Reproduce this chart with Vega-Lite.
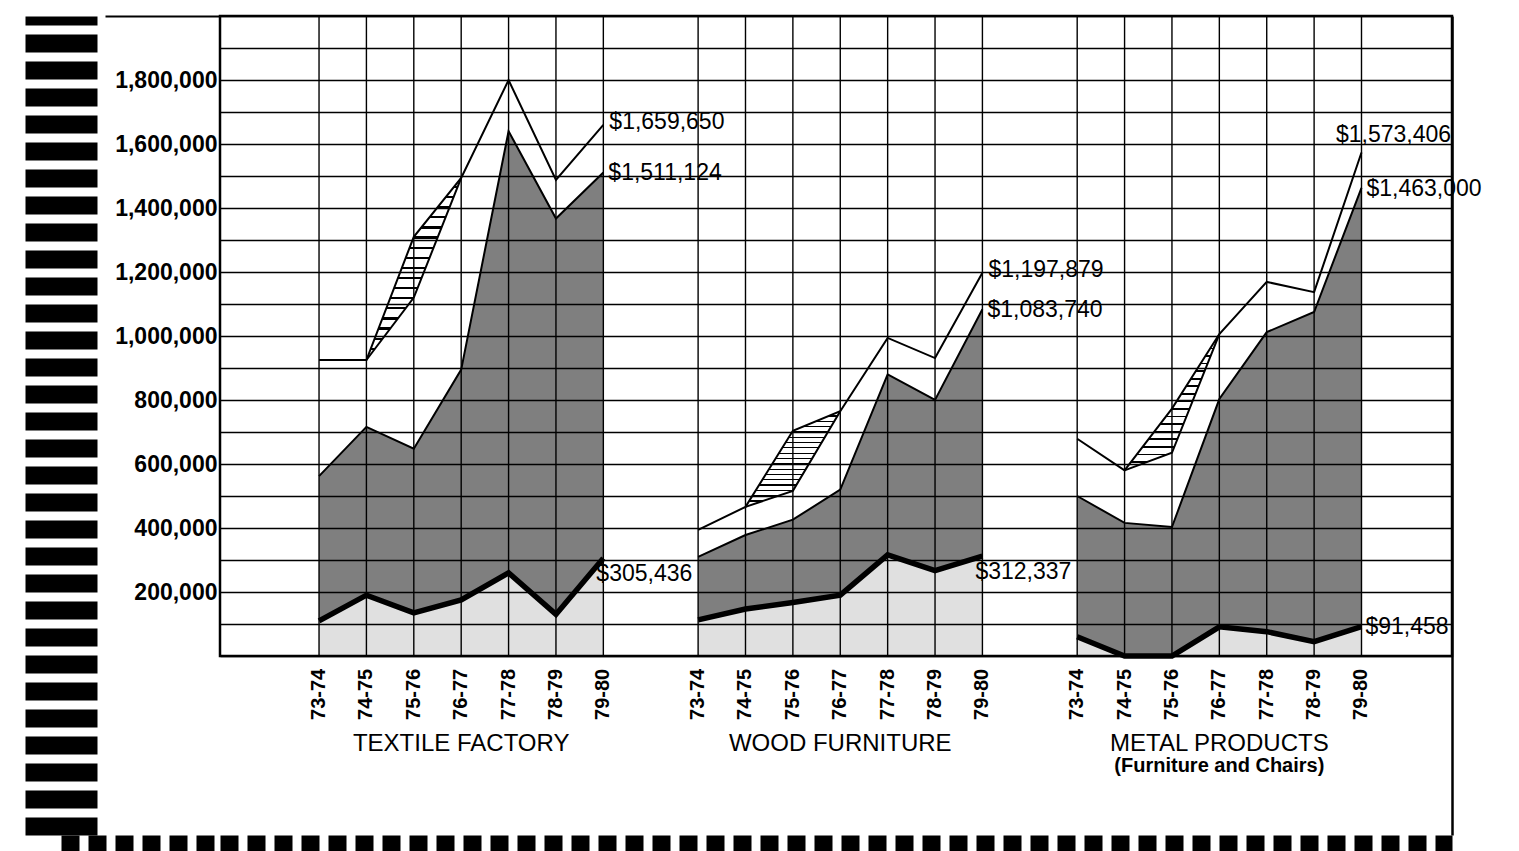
{
  "$schema": "https://vega.github.io/schema/vega-lite/v6.json",
  "width": 1232,
  "height": 819,
  "autosize": {"type": "none"},
  "padding": {"left": 220, "top": 16, "right": 67, "bottom": 16},
  "background": "white",
  "config": {"view": {"stroke": null}, "font": "Liberation Sans"},
  "datasets": {
    "main": [
      {"industry": "TEXTILE FACTORY", "year": "73-74", "upper": 925000, "alt": null, "middle": 562000, "lower": 110000},
      {"industry": "TEXTILE FACTORY", "year": "74-75", "upper": 925000, "alt": 925000, "middle": 716000, "lower": 190000},
      {"industry": "TEXTILE FACTORY", "year": "75-76", "upper": 1310000, "alt": 1120000, "middle": 648000, "lower": 135000},
      {"industry": "TEXTILE FACTORY", "year": "76-77", "upper": 1494000, "alt": 1494000, "middle": 895000, "lower": 175000},
      {"industry": "TEXTILE FACTORY", "year": "77-78", "upper": 1800000, "alt": null, "middle": 1640000, "lower": 260000},
      {"industry": "TEXTILE FACTORY", "year": "78-79", "upper": 1488000, "alt": null, "middle": 1367000, "lower": 130000},
      {"industry": "TEXTILE FACTORY", "year": "79-80", "upper": 1659650, "alt": null, "middle": 1511124, "lower": 305436},
      {"industry": "WOOD FURNITURE", "year": "73-74", "upper": 394000, "alt": null, "middle": 310000, "lower": 113000},
      {"industry": "WOOD FURNITURE", "year": "74-75", "upper": 466000, "alt": 466000, "middle": 378000, "lower": 147000},
      {"industry": "WOOD FURNITURE", "year": "75-76", "upper": 704000, "alt": 516000, "middle": 426000, "lower": 167000},
      {"industry": "WOOD FURNITURE", "year": "76-77", "upper": 765000, "alt": 765000, "middle": 520000, "lower": 190000},
      {"industry": "WOOD FURNITURE", "year": "77-78", "upper": 994000, "alt": null, "middle": 880000, "lower": 316000},
      {"industry": "WOOD FURNITURE", "year": "78-79", "upper": 931000, "alt": null, "middle": 800000, "lower": 267000},
      {"industry": "WOOD FURNITURE", "year": "79-80", "upper": 1197879, "alt": null, "middle": 1083740, "lower": 312337},
      {"industry": "METAL PRODUCTS", "year": "73-74", "upper": 679000, "alt": null, "middle": 500000, "lower": 60000},
      {"industry": "METAL PRODUCTS", "year": "74-75", "upper": 580000, "alt": 580000, "middle": 416000, "lower": 0},
      {"industry": "METAL PRODUCTS", "year": "75-76", "upper": 773000, "alt": 635000, "middle": 403000, "lower": 0},
      {"industry": "METAL PRODUCTS", "year": "76-77", "upper": 1006000, "alt": 1006000, "middle": 803000, "lower": 91000},
      {"industry": "METAL PRODUCTS", "year": "77-78", "upper": 1169000, "alt": null, "middle": 1012000, "lower": 76000},
      {"industry": "METAL PRODUCTS", "year": "78-79", "upper": 1137000, "alt": null, "middle": 1075000, "lower": 45000},
      {"industry": "METAL PRODUCTS", "year": "79-80", "upper": 1573406, "alt": null, "middle": 1463000, "lower": 91458}
    ],
    "titles": [
      {"industry": "TEXTILE FACTORY", "note": null},
      {"industry": "WOOD FURNITURE", "note": null},
      {"industry": "METAL PRODUCTS", "note": "(Furniture and Chairs)"}
    ],
    "one": [{}]
  },
  "resolve": {"axis": {"x": "independent", "y": "independent"}},
  "layer": [
    {
      "data": {"name": "main"},
      "mark": {"type": "area", "fill": "black", "fillOpacity": 0.12},
      "encoding": {
        "x": {"field": "industry", "type": "nominal", "axis": null,
              "scale": {"domain": ["TEXTILE FACTORY", "WOOD FURNITURE", "METAL PRODUCTS"], "paddingInner": 0.125, "paddingOuter": 0.1875, "align": 0.53}},
        "xOffset": {"field": "year", "type": "ordinal", "scale": {"type": "band", "paddingInner": 0, "paddingOuter": 0}},
        "y": {"field": "lower", "type": "quantitative", "stack": null, "axis": null,
              "scale": {"domain": [-559375, 2000000], "nice": false, "zero": false}},
        "detail": {"field": "industry"}
      }
    },
    {
      "data": {"name": "main"},
      "mark": {"type": "area", "fill": "black", "fillOpacity": 0.5},
      "encoding": {
        "x": {"field": "industry", "type": "nominal", "axis": null},
        "xOffset": {"field": "year", "type": "ordinal"},
        "y": {"field": "middle", "type": "quantitative", "stack": null, "axis": null},
        "y2": {"field": "lower"},
        "detail": {"field": "industry"}
      }
    },
    {
      "data": {"name": "main"},
      "transform": [{"filter": "datum.alt != null"}],
      "mark": {"type": "area", "fill": {"gradient": "linear", "x1": 0, "y1": 0, "x2": 0, "y2": 1, "stops": [
        {"offset": 0, "color": "rgba(255,255,255,0)"}, {"offset": 0.0433, "color": "rgba(255,255,255,0)"}, {"offset": 0.0433, "color": "black"}, {"offset": 0.0556, "color": "black"},
        {"offset": 0.0556, "color": "rgba(255,255,255,0)"}, {"offset": 0.0989, "color": "rgba(255,255,255,0)"}, {"offset": 0.0989, "color": "black"}, {"offset": 0.1111, "color": "black"},
        {"offset": 0.1111, "color": "rgba(255,255,255,0)"}, {"offset": 0.1544, "color": "rgba(255,255,255,0)"}, {"offset": 0.1544, "color": "black"}, {"offset": 0.1667, "color": "black"},
        {"offset": 0.1667, "color": "rgba(255,255,255,0)"}, {"offset": 0.21, "color": "rgba(255,255,255,0)"}, {"offset": 0.21, "color": "black"}, {"offset": 0.2222, "color": "black"},
        {"offset": 0.2222, "color": "rgba(255,255,255,0)"}, {"offset": 0.2656, "color": "rgba(255,255,255,0)"}, {"offset": 0.2656, "color": "black"}, {"offset": 0.2778, "color": "black"},
        {"offset": 0.2778, "color": "rgba(255,255,255,0)"}, {"offset": 0.3211, "color": "rgba(255,255,255,0)"}, {"offset": 0.3211, "color": "black"}, {"offset": 0.3333, "color": "black"},
        {"offset": 0.3333, "color": "rgba(255,255,255,0)"}, {"offset": 0.3767, "color": "rgba(255,255,255,0)"}, {"offset": 0.3767, "color": "black"}, {"offset": 0.3889, "color": "black"},
        {"offset": 0.3889, "color": "rgba(255,255,255,0)"}, {"offset": 0.4322, "color": "rgba(255,255,255,0)"}, {"offset": 0.4322, "color": "black"}, {"offset": 0.4444, "color": "black"},
        {"offset": 0.4444, "color": "rgba(255,255,255,0)"}, {"offset": 0.4878, "color": "rgba(255,255,255,0)"}, {"offset": 0.4878, "color": "black"}, {"offset": 0.5, "color": "black"},
        {"offset": 0.5, "color": "rgba(255,255,255,0)"}, {"offset": 0.5433, "color": "rgba(255,255,255,0)"}, {"offset": 0.5433, "color": "black"}, {"offset": 0.5556, "color": "black"},
        {"offset": 0.5556, "color": "rgba(255,255,255,0)"}, {"offset": 0.5989, "color": "rgba(255,255,255,0)"}, {"offset": 0.5989, "color": "black"}, {"offset": 0.6111, "color": "black"},
        {"offset": 0.6111, "color": "rgba(255,255,255,0)"}, {"offset": 0.6544, "color": "rgba(255,255,255,0)"}, {"offset": 0.6544, "color": "black"}, {"offset": 0.6667, "color": "black"},
        {"offset": 0.6667, "color": "rgba(255,255,255,0)"}, {"offset": 0.71, "color": "rgba(255,255,255,0)"}, {"offset": 0.71, "color": "black"}, {"offset": 0.7222, "color": "black"},
        {"offset": 0.7222, "color": "rgba(255,255,255,0)"}, {"offset": 0.7656, "color": "rgba(255,255,255,0)"}, {"offset": 0.7656, "color": "black"}, {"offset": 0.7778, "color": "black"},
        {"offset": 0.7778, "color": "rgba(255,255,255,0)"}, {"offset": 0.8211, "color": "rgba(255,255,255,0)"}, {"offset": 0.8211, "color": "black"}, {"offset": 0.8333, "color": "black"},
        {"offset": 0.8333, "color": "rgba(255,255,255,0)"}, {"offset": 0.8767, "color": "rgba(255,255,255,0)"}, {"offset": 0.8767, "color": "black"}, {"offset": 0.8889, "color": "black"},
        {"offset": 0.8889, "color": "rgba(255,255,255,0)"}, {"offset": 0.9322, "color": "rgba(255,255,255,0)"}, {"offset": 0.9322, "color": "black"}, {"offset": 0.9444, "color": "black"},
        {"offset": 0.9444, "color": "rgba(255,255,255,0)"}, {"offset": 0.9878, "color": "rgba(255,255,255,0)"}, {"offset": 0.9878, "color": "black"}, {"offset": 1, "color": "black"}
      ]}},
      "encoding": {
        "x": {"field": "industry", "type": "nominal", "axis": null},
        "xOffset": {"field": "year", "type": "ordinal"},
        "y": {"field": "upper", "type": "quantitative", "stack": null, "axis": null},
        "y2": {"field": "alt"},
        "detail": {"field": "industry"}
      }
    },
    {
      "data": {"name": "one"},
      "mark": {"type": "rect", "filled": false, "stroke": "black", "strokeWidth": 2.5},
      "encoding": {
        "y": {"datum": 0, "type": "quantitative",
              "axis": {"orient": "left", "title": null,
                       "values": [0, 100000, 200000, 300000, 400000, 500000, 600000, 700000, 800000, 900000, 1000000, 1100000, 1200000, 1300000, 1400000, 1500000, 1600000, 1700000, 1800000, 1900000, 2000000],
                       "grid": true, "gridColor": "black", "gridWidth": 1.3, "gridOpacity": 1,
                       "domain": false,
                       "ticks": true, "tickSize": 115, "tickColor": "black", "tickWidth": 2,
                       "tickOpacity": {"condition": {"test": "datum.value == 2000000", "value": 1}, "value": 0},
                       "labelExpr": "datum.value > 0 && datum.value < 2000000 && datum.value % 200000 == 0 ? format(datum.value, ',') : ''",
                       "labelOverlap": false, "labelFont": "Liberation Sans", "labelFontSize": 23, "labelFontWeight": "bold",
                       "labelColor": "black", "labelPadding": -112}},
        "y2": {"datum": 2000000}
      }
    },
    {
      "data": {"name": "main"},
      "mark": {"type": "rule", "color": "black", "strokeWidth": 1.4},
      "encoding": {
        "x": {"field": "industry", "type": "nominal", "axis": null},
        "xOffset": {"field": "year", "type": "ordinal"},
        "y": {"datum": 0, "type": "quantitative", "axis": null},
        "y2": {"datum": 2000000}
      }
    },
    {
      "data": {"name": "main"},
      "mark": {"type": "line", "color": "black", "strokeWidth": 2},
      "encoding": {
        "x": {"field": "industry", "type": "nominal", "axis": null},
        "xOffset": {"field": "year", "type": "ordinal"},
        "y": {"field": "upper", "type": "quantitative", "axis": null},
        "detail": {"field": "industry"},
        "order": {"field": "year", "type": "ordinal"}
      }
    },
    {
      "data": {"name": "main"},
      "transform": [{"filter": "datum.alt != null"}],
      "mark": {"type": "line", "color": "black", "strokeWidth": 2},
      "encoding": {
        "x": {"field": "industry", "type": "nominal", "axis": null},
        "xOffset": {"field": "year", "type": "ordinal"},
        "y": {"field": "alt", "type": "quantitative", "axis": null},
        "detail": {"field": "industry"},
        "order": {"field": "year", "type": "ordinal"}
      }
    },
    {
      "data": {"name": "main"},
      "mark": {"type": "line", "color": "black", "strokeWidth": 2},
      "encoding": {
        "x": {"field": "industry", "type": "nominal", "axis": null},
        "xOffset": {"field": "year", "type": "ordinal"},
        "y": {"field": "middle", "type": "quantitative", "axis": null},
        "detail": {"field": "industry"},
        "order": {"field": "year", "type": "ordinal"}
      }
    },
    {
      "data": {"name": "main"},
      "mark": {"type": "line", "color": "black", "strokeWidth": 5.5},
      "encoding": {
        "x": {"field": "industry", "type": "nominal", "axis": null},
        "xOffset": {"field": "year", "type": "ordinal"},
        "y": {"field": "lower", "type": "quantitative", "axis": null},
        "detail": {"field": "industry"},
        "order": {"field": "year", "type": "ordinal"}
      }
    },
    {
      "data": {"name": "main"},
      "mark": {"type": "text", "angle": 270, "align": "right", "baseline": "middle", "font": "Liberation Sans", "fontSize": 20, "fontWeight": "bold", "color": "black"},
      "encoding": {
        "x": {"field": "industry", "type": "nominal", "axis": null},
        "xOffset": {"field": "year", "type": "ordinal"},
        "y": {"datum": -40000, "type": "quantitative", "axis": null},
        "text": {"field": "year"}
      }
    },
    {
      "data": {"name": "titles"},
      "mark": {"type": "text", "align": "center", "baseline": "middle", "font": "Liberation Sans", "fontSize": 24, "color": "black"},
      "encoding": {
        "x": {"field": "industry", "type": "nominal",
              "axis": {"orient": "bottom", "offset": 8, "title": null, "labels": false, "ticks": false, "grid": false,
                       "domain": true, "domainColor": "black", "domainWidth": 16, "domainDash": [18, 9]}},
        "y": {"datum": -275000, "type": "quantitative",
              "axis": {"orient": "left", "offset": 159, "title": null, "labels": false, "grid": false,
                       "values": [-559375],
                       "ticks": true, "tickSize": -159, "tickWidth": 16, "tickOffset": 8, "tickColor": "black", "tickDash": [18, 9],
                       "domain": true, "domainColor": "black", "domainWidth": 72, "domainDash": [18, 9]}},
        "text": {"field": "industry"}
      }
    },
    {
      "data": {"name": "titles"},
      "transform": [{"filter": "datum.note != null"}],
      "mark": {"type": "text", "align": "center", "baseline": "middle", "font": "Liberation Sans", "fontSize": 20, "fontWeight": "bold", "color": "black"},
      "encoding": {
        "x": {"field": "industry", "type": "nominal", "axis": null},
        "y": {"datum": -344000, "type": "quantitative",
              "axis": {"orient": "right", "offset": 0, "title": null, "labels": false, "ticks": false, "grid": false,
                       "domain": true, "domainColor": "black", "domainWidth": 2.5}},
        "text": {"field": "note"}
      }
    },
    {
      "data": {"name": "main"},
      "transform": [{"filter": "datum.year == '79-80' && datum.industry != 'METAL PRODUCTS'"}],
      "mark": {"type": "text", "align": "left", "baseline": "middle", "dx": 6, "dy": -3, "font": "Liberation Sans", "fontSize": 23, "color": "black"},
      "encoding": {
        "x": {"field": "industry", "type": "nominal", "axis": null},
        "xOffset": {"field": "year", "type": "ordinal"},
        "y": {"field": "upper", "type": "quantitative", "axis": null},
        "text": {"field": "upper", "type": "quantitative", "format": "$,"}
      }
    },
    {
      "data": {"name": "main"},
      "transform": [{"filter": "datum.year == '79-80'"}],
      "mark": {"type": "text", "align": "left", "baseline": "middle", "dx": 5, "dy": 1, "font": "Liberation Sans", "fontSize": 23, "color": "black"},
      "encoding": {
        "x": {"field": "industry", "type": "nominal", "axis": null},
        "xOffset": {"field": "year", "type": "ordinal"},
        "y": {"field": "middle", "type": "quantitative", "axis": null},
        "text": {"field": "middle", "type": "quantitative", "format": "$,"}
      }
    },
    {
      "data": {"name": "main"},
      "transform": [{"filter": "datum.year == '79-80' && datum.industry != 'METAL PRODUCTS'"}],
      "mark": {"type": "text", "align": "left", "baseline": "middle", "dx": -7, "dy": 16, "font": "Liberation Sans", "fontSize": 23, "color": "black"},
      "encoding": {
        "x": {"field": "industry", "type": "nominal", "axis": null},
        "xOffset": {"field": "year", "type": "ordinal"},
        "y": {"field": "lower", "type": "quantitative", "axis": null},
        "text": {"field": "lower", "type": "quantitative", "format": "$,"}
      }
    },
    {
      "data": {"name": "main"},
      "transform": [{"filter": "datum.year == '79-80' && datum.industry == 'METAL PRODUCTS'"}],
      "mark": {"type": "text", "align": "left", "baseline": "middle", "dx": 4, "dy": 0, "font": "Liberation Sans", "fontSize": 23, "color": "black"},
      "encoding": {
        "x": {"field": "industry", "type": "nominal", "axis": null},
        "xOffset": {"field": "year", "type": "ordinal"},
        "y": {"field": "lower", "type": "quantitative", "axis": null},
        "text": {"field": "lower", "type": "quantitative", "format": "$,"}
      }
    },
    {
      "data": {"name": "main"},
      "transform": [{"filter": "datum.year == '79-80' && datum.industry == 'METAL PRODUCTS'"}],
      "mark": {"type": "text", "align": "center", "baseline": "middle", "dx": 32, "dy": -18, "font": "Liberation Sans", "fontSize": 23, "color": "black"},
      "encoding": {
        "x": {"field": "industry", "type": "nominal", "axis": null},
        "xOffset": {"field": "year", "type": "ordinal"},
        "y": {"field": "upper", "type": "quantitative", "axis": null},
        "text": {"field": "upper", "type": "quantitative", "format": "$,"}
      }
    }
  ]
}
